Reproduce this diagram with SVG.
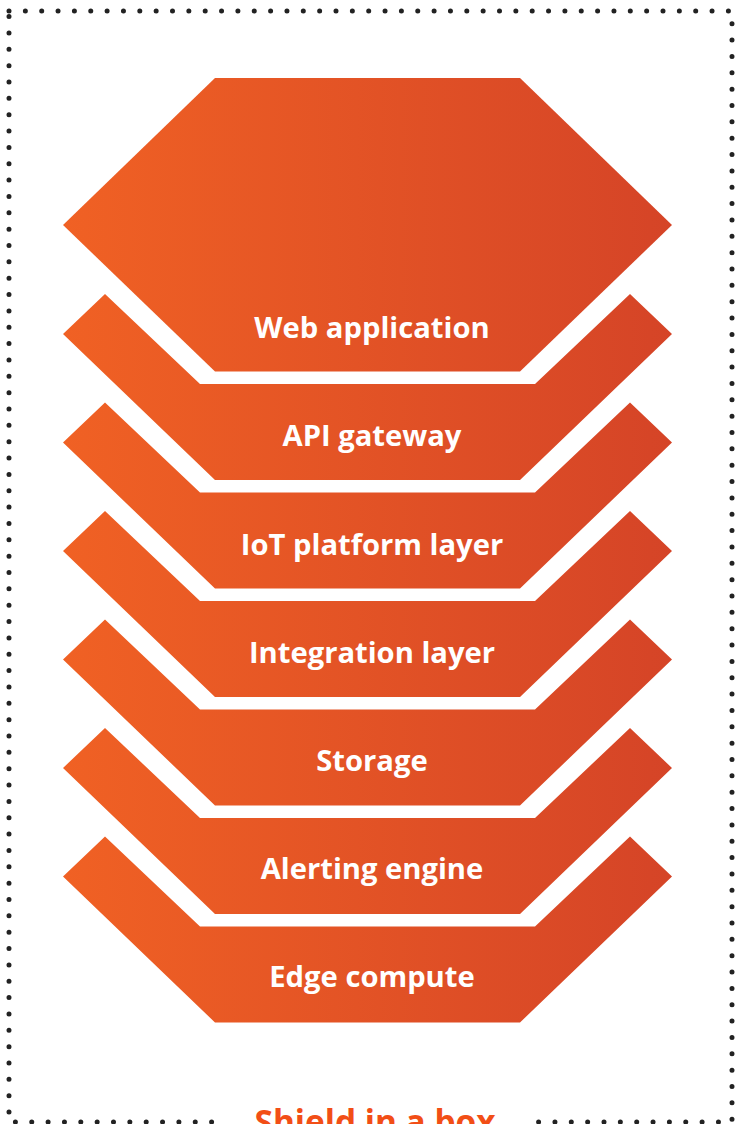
<svg xmlns="http://www.w3.org/2000/svg" width="745" height="1124" viewBox="0 0 745 1124">
<defs>
<linearGradient id="g" gradientUnits="userSpaceOnUse" x1="63" y1="0" x2="672" y2="0">
<stop offset="0" stop-color="#F06124"/>
<stop offset="1" stop-color="#D54427"/>
</linearGradient>
<style>
.s{fill:url(#g)}
.t{font-family:"Open Sans","Noto Sans",sans-serif;font-weight:700;font-size:29.2px;fill:#FFFFFF;text-anchor:middle}
</style>
<polygon id="band" points="105,185.5 200,275.5 535,275.5 630,185.5 672,225.5 520,371.5 215,371.5 63,225.5"/>
</defs>
<rect x="9" y="11" width="723" height="1111" fill="none" stroke="#222" stroke-width="5" stroke-linecap="round" stroke-dasharray="0 16.35"/>
<g id="web-application">
<polygon class="s" points="215,78 520,78 672,225 520,371.5 215,371.5 63,225"/>
<text class="t" x="372" y="337.5">Web application</text>
</g>
<g id="api-gateway">
<use href="#band" class="s" transform="translate(0,108.5)"/>
<text class="t" x="372" y="446">API gateway</text>
</g>
<g id="iot-platform-layer">
<use href="#band" class="s" transform="translate(0,217)"/>
<text class="t" x="372" y="554.5">IoT platform layer</text>
</g>
<g id="integration-layer">
<use href="#band" class="s" transform="translate(0,325.5)"/>
<text class="t" x="372" y="662.5">Integration layer</text>
</g>
<g id="storage">
<use href="#band" class="s" transform="translate(0,434)"/>
<text class="t" x="372" y="770.5">Storage</text>
</g>
<g id="alerting-engine">
<use href="#band" class="s" transform="translate(0,542.5)"/>
<text class="t" x="372" y="878.5">Alerting engine</text>
</g>
<g id="edge-compute">
<use href="#band" class="s" transform="translate(0,651)"/>
<text class="t" x="372" y="986.5">Edge compute</text>
</g>
<g id="title">
<rect x="220" y="1100" width="313" height="24" fill="#FFFFFF"/>
<text x="375" y="1134" font-family="'Open Sans','Noto Sans',sans-serif" font-weight="700" font-size="33.4" fill="#F24E16" text-anchor="middle">Shield in a box</text>
</g>
<g id="connectors"/>
</svg>
